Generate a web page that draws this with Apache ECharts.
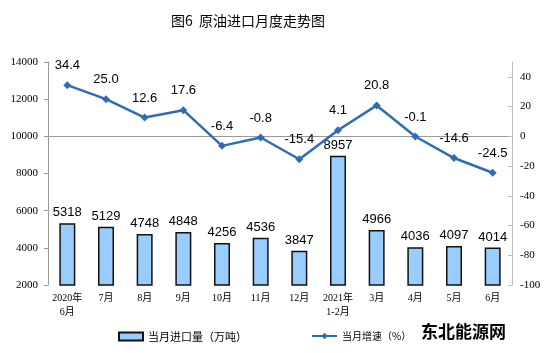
<!DOCTYPE html>
<html>
<head>
<meta charset="utf-8">
<script src="https://cdn.jsdelivr.net/npm/echarts@6/dist/echarts.min.js"></script>
<style>
  html, body { margin: 0; padding: 0; background: #fff; }
  #chart { width: 554px; height: 353px; }
</style>
</head>
<body>
<div id="chart"></div>
<script>
var months = ['2020年\n6月', '7月', '8月', '9月', '10月', '11月', '12月', '2021年\n1-2月', '3月', '4月', '5月', '6月'];
var importVolume = [5318, 5129, 4748, 4848, 4256, 4536, 3847, 8957, 4966, 4036, 4097, 4014];
var growthRate = [34.4, 25.0, 12.6, 17.6, -6.4, -0.8, -15.4, 4.1, 20.8, -0.1, -14.6, -24.5];

var chart = echarts.init(document.getElementById('chart'));

var serif = "'Liberation Serif', 'Noto Sans CJK SC', serif";
var sans = "'Liberation Sans', Arial, sans-serif";
var cjk = "'Noto Sans CJK SC', sans-serif";

chart.setOption({
  backgroundColor: '#fff',
  animation: false,
  title: {
    text: '图6  原油进口月度走势图',
    left: 166,
    top: 9,
    textStyle: { fontFamily: cjk, fontSize: 14, fontWeight: 'normal', color: '#000' }
  },
  legend: [{
    left: 113,
    top: 326,
    itemWidth: 24,
    itemHeight: 8,
    itemGap: 2,
    textStyle: { fontFamily: cjk, fontSize: 11, color: '#000' },
    data: [{ name: '当月进口量（万吨）', icon: 'rect' }]
  }, {
    left: 306,
    top: 326,
    itemWidth: 25,
    itemHeight: 8,
    itemGap: 2,
    textStyle: { fontFamily: cjk, fontSize: 10, color: '#000' },
    data: [{ name: '当月增速（%）' }]
  }],
  graphic: [{
    type: 'text',
    left: 421,
    top: 323,
    style: { text: '东北能源网', fontFamily: cjk, fontSize: 17, fontWeight: 'bold', fill: '#000' }
  }],
  grid: { left: 48, right: 42, top: 62, bottom: 68 },
  xAxis: {
    type: 'category',
    data: months,
    axisLine: { lineStyle: { color: '#999' } },
    axisTick: { alignWithLabel: false, inside: true, length: 4, lineStyle: { color: '#999' } },
    axisLabel: { fontFamily: serif, fontSize: 10, color: '#000', margin: 6, lineHeight: 14, interval: 0 }
  },
  yAxis: [{
    type: 'value',
    min: 2000,
    max: 14000,
    interval: 2000,
    splitLine: { show: false },
    axisLine: { show: true, lineStyle: { color: '#999' } },
    axisTick: { show: true, length: 4, lineStyle: { color: '#999' } },
    axisLabel: { fontFamily: serif, fontSize: 11, color: '#000', margin: 10, formatter: function (v) { return String(v); } }
  }, {
    type: 'value',
    min: -100,
    max: 50,
    interval: 20,
    splitLine: { show: false },
    axisLine: { show: true, lineStyle: { color: '#bbb' } },
    axisTick: { show: true, inside: true, length: 4, lineStyle: { color: '#bbb' } },
    axisLabel: { fontFamily: serif, fontSize: 11, color: '#000', margin: 8, showMaxLabel: false }
  }],
  series: [{
    name: '当月进口量（万吨）',
    type: 'bar',
    data: importVolume,
    barWidth: 16,
    itemStyle: { color: '#99CCFF', borderColor: '#111', borderWidth: 1.5 },
    label: {
      show: true,
      position: 'top',
      distance: 4,
      fontFamily: sans,
      fontSize: 13,
      color: '#000'
    }
  }, {
    name: '当月增速（%）',
    type: 'line',
    yAxisIndex: 1,
    data: growthRate,
    symbol: 'diamond',
    symbolSize: 8,
    lineStyle: { color: '#2E6DB4', width: 2.5 },
    itemStyle: { color: '#2E6DB4' },
    label: {
      show: true,
      position: 'top',
      distance: 9,
      fontFamily: sans,
      fontSize: 13,
      color: '#000',
      formatter: function (p) { return p.value.toFixed(1); }
    }
  }]
});
</script>
</body>
</html>
